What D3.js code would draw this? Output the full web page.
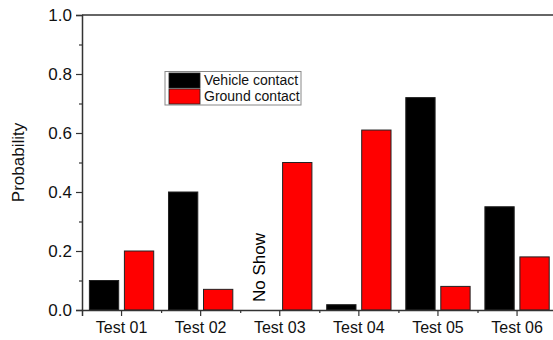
<!DOCTYPE html>
<html>
<head>
<meta charset="utf-8">
<script src="https://cdn.jsdelivr.net/npm/d3@7"></script>
<style>
  html, body { margin: 0; padding: 0; background: #fff; }
  svg { display: block; font-family: Arial, "Liberation Sans", sans-serif; }
</style>
</head>
<body>
<svg id="chart" width="553" height="340"></svg>
<script>
// Contact probability per test
const tests = ["Test 01", "Test 02", "Test 03", "Test 04", "Test 05", "Test 06"];
const seriesNames = ["Vehicle contact", "Ground contact"];
const vehicleContact = [0.10, 0.40, null, 0.018, 0.72, 0.35];
const groundContact  = [0.20, 0.07, 0.50, 0.61, 0.08, 0.18];
const seriesColors = ["#000000", "#ff0000"];
const yTicks = [0.0, 0.2, 0.4, 0.6, 0.8, 1.0];
const yMinorTicks = [0.1, 0.3, 0.5, 0.7, 0.9];
const noShowTest = "Test 03";
const noShowLabel = "No Show";
const yTitle = "Probability";

const svg = d3.select("#chart");
const margin = { left: 82, top: 15, bottom: 30 };
const plotW = 6 * 79.1;
const plotH = 295;

const x = d3.scaleBand().domain(tests).range([margin.left, margin.left + plotW]).padding(0);
const xInner = d3.scaleBand().domain(seriesNames).range([0, x.bandwidth()])
  .paddingInner(0.163).paddingOuter(0.211);
const y = d3.scaleLinear().domain([0, 1]).range([margin.top + plotH, margin.top]);

const rows = tests.map((t, i) => ({ test: t, values: [vehicleContact[i], groundContact[i]] }));

// Bars
const groups = svg.append("g").selectAll("g").data(rows).join("g")
  .attr("transform", d => `translate(${x(d.test)},0)`);
groups.selectAll("rect")
  .data(d => d.values.map((v, k) => ({ name: seriesNames[k], v, k })).filter(e => e.v != null))
  .join("rect")
  .attr("x", e => xInner(e.name))
  .attr("width", xInner.bandwidth())
  .attr("y", e => y(e.v))
  .attr("height", e => y(0) - y(e.v))
  .attr("fill", e => seriesColors[e.k])
  .attr("stroke", "#222")
  .attr("stroke-width", 1);

// "No Show" annotation in the missing slot
const nsX = x(noShowTest) + xInner(seriesNames[0]) + xInner.bandwidth() / 2;
svg.append("text")
  .attr("transform", `translate(${nsX + 3},${y(0) - 8}) rotate(-90)`)
  .attr("font-size", 17)
  .attr("fill", "#000")
  .text(noShowLabel);

const axisColor = "#333";

// Y axis with major and minor ticks
svg.append("g").attr("class", "y-axis").attr("transform", `translate(${margin.left},0)`)
  .call(d3.axisLeft(y).tickValues(yTicks).tickFormat(d3.format(".1f")).tickSize(6).tickPadding(4));
svg.append("g").attr("transform", `translate(${margin.left},0)`)
  .call(d3.axisLeft(y).tickValues(yMinorTicks).tickFormat("").tickSize(3))
  .call(g => g.select(".domain").remove());

// X axis: major ticks at categories, minor ticks between them
svg.append("g").attr("class", "x-axis").attr("transform", `translate(0,${y(0)})`)
  .call(d3.axisBottom(x).tickSize(6).tickPadding(6));
const xLin = d3.scaleLinear().domain([0, tests.length]).range([margin.left, margin.left + plotW]);
svg.append("g").attr("transform", `translate(0,${y(0)})`)
  .call(d3.axisBottom(xLin).tickValues(d3.range(1, tests.length)).tickFormat("").tickSize(3))
  .call(g => g.select(".domain").remove());

svg.selectAll(".domain").attr("stroke", axisColor).attr("stroke-width", 1.5);
svg.selectAll(".tick line").attr("stroke", axisColor).attr("stroke-width", 1.2);
svg.selectAll(".tick text").attr("fill", "#111")
  .attr("font-family", "Arial, 'Liberation Sans', sans-serif");
svg.selectAll(".x-axis .tick text").attr("font-size", 16);
svg.selectAll(".y-axis .tick text").attr("font-size", 17);

// Top frame line
svg.append("line")
  .attr("x1", margin.left).attr("x2", margin.left + plotW)
  .attr("y1", y(1)).attr("y2", y(1))
  .attr("stroke", axisColor).attr("stroke-width", 1.5);

// Y axis title
svg.append("text")
  .attr("transform", `translate(24,${(y(0) + y(1)) / 2}) rotate(-90)`)
  .attr("text-anchor", "middle")
  .attr("font-size", 17)
  .attr("fill", "#111")
  .text(yTitle);

// Legend
const legend = svg.append("g").attr("transform", "translate(165,71.5)");
legend.append("rect")
  .attr("width", 136).attr("height", 33.5)
  .attr("fill", "#fff").attr("stroke", "#888").attr("stroke-width", 1);
seriesNames.forEach((name, k) => {
  legend.append("rect")
    .attr("x", 4).attr("y", 1.5 + k * 16)
    .attr("width", 31).attr("height", 15)
    .attr("fill", seriesColors[k]).attr("stroke", "#222").attr("stroke-width", 0.8);
  legend.append("text")
    .attr("x", 39).attr("y", 13.5 + k * 16)
    .attr("font-size", 14).attr("fill", "#111")
    .text(name);
});
</script>
</body>
</html>
